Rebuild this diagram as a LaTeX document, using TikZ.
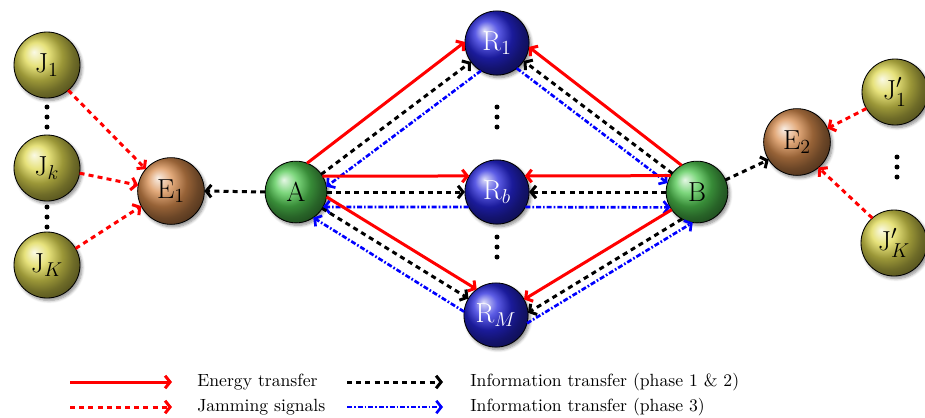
\documentclass[tikz,border=0pt]{standalone}
\usetikzlibrary{arrows.meta,shadows.blur}
\definecolor{jcol}{RGB}{222,216,80}
\definecolor{ecol}{RGB}{215,140,78}
\definecolor{scol}{RGB}{80,200,80}
\definecolor{rcol}{RGB}{38,38,220}
\begin{document}
\begin{tikzpicture}[x=0.6pt,y=-0.6pt,
  orb/.style={circle, draw=black, line width=0.5pt, inner sep=0pt, outer sep=0pt,
    font=\fontsize{16.5}{18}\selectfont,
    blur shadow={shadow xshift=1.2pt, shadow yshift=-1.5pt, shadow blur steps=6, shadow opacity=45}},
  jam/.style={orb, minimum size=39.6pt, ball color=jcol},
  eve/.style={orb, minimum size=40pt, ball color=ecol},
  src/.style={orb, minimum size=37pt, ball color=scol},
  rel/.style={orb, minimum size=38.5pt, ball color=rcol, text=white},
  barb/.style={-{Straight Barb[length=3pt,width=7.5pt]}},
  energy/.style={barb, draw=red, line width=1.8pt},
  jamming/.style={barb, draw=red, line width=1.8pt, dash pattern=on 3pt off 2.5pt},
  infoA/.style={barb, draw=black, line width=1.8pt, dash pattern=on 3pt off 2.5pt},
  infoB/.style={barb, draw=blue, line width=1.6pt, dash pattern=on 3pt off 1.2pt on 1pt off 1.2pt},
  legtext/.style={anchor=west, inner sep=0pt, font=\fontsize{10.6}{12}\selectfont},
  dot/.style={fill=black}
]
\useasboundingbox (0,0) rectangle (925,417);

% jammers and eavesdroppers
\node[jam] (J1) at (47,65) {J$_1$};
\node[jam] (Jk) at (47,168) {J$_k$};
\node[jam] (JK) at (47,265) {J$_K$};
\node[eve] (E1) at (171,191) {E$_1$};
\node[eve] (E2) at (797,142) {E$_2$};
\node[jam] (Jp1) at (895,92) {J$'_1$};
\node[jam] (JpK) at (894,243) {J$'_K$};

% sources and relays
\node[src] (A) at (296,192) {A};
\node[src] (B) at (697,192) {B};
\node[rel] (R1) at (497,43) {R$_1$};
\node[rel] (Rb) at (497,192) {R$_b$};
\node[rel] (RM) at (496,315) {R$_M$};

% vertical ellipses
\foreach \x/\y in {47/107,47/117,47/127, 47/207,47/217,47/227,
                   497/107,497/117,497/127, 497/237,497/247,497/257,
                   897/157,897/167,897/177}
  \fill[dot] (\x,\y) circle (1.5pt);

% upper relay R_1
\draw[energy] (A.69) -- (R1.178);
\draw[infoA]  (A.35) -- (R1.216);
\draw[infoB]  (R1.240) -- (A.10);
\draw[energy] (B.120) -- (R1.353);
\draw[infoA]  (B.143) -- (R1.326);
\draw[infoB]  (R1.308) -- (B.163);

% middle relay R_b
\draw[energy] (A.31) -- (Rb.150);
\draw[infoA]  (A.east) -- (Rb.west);
\draw[infoB]  (Rb.208) -- (A.331);
\draw[energy] (B.148) -- (Rb.30);
\draw[infoA]  (B.west) -- (Rb.east);
\draw[infoB]  (Rb.332) -- (B.210);

% lower relay R_M
\draw[energy] (A.351) -- (RM.127);
\draw[infoA]  (A.328) -- (RM.149);
\draw[infoB]  (RM.174) -- (A.304);
\draw[energy] (B.215) -- (RM.29);
\draw[infoA]  (B.241) -- (RM.4);
\draw[infoB]  (RM.345) -- (B.262);

% eavesdropping links
\draw[infoA] (A.west) -- (E1.east);
\draw[infoA] (B.23) -- (E2.212);

% jamming links
\draw[jamming] (J1.310) -- (E1.139);
\draw[jamming] (Jk.351) -- (E1.170);
\draw[jamming] (JK.30) -- (E1.207);
\draw[jamming] (Jp1.210) -- (E2.24);
\draw[jamming] (JpK.131) -- (E2.310);

% legend
\coordinate (la1) at (70,382);  \coordinate (lb1) at (172,382);
\coordinate (la2) at (70,407);  \coordinate (lb2) at (172,407);
\coordinate (la3) at (347,382); \coordinate (lb3) at (443,382);
\coordinate (la4) at (347,407); \coordinate (lb4) at (443,407);
\draw[energy]  (la1) -- (lb1);
\draw[jamming] (la2) -- (lb2);
\draw[infoA]   (la3) -- (lb3);
\draw[infoB]   (la4) -- (lb4);
\node[legtext] (t1) at (197,382) {Energy transfer};
\node[legtext] (t2) at (197,407) {Jamming signals};
\node[legtext] (t3) at (470,382) {Information transfer (phase 1 \& 2)};
\node[legtext] (t4) at (470,407) {Information transfer (phase 3)};
\end{tikzpicture}
\end{document}
